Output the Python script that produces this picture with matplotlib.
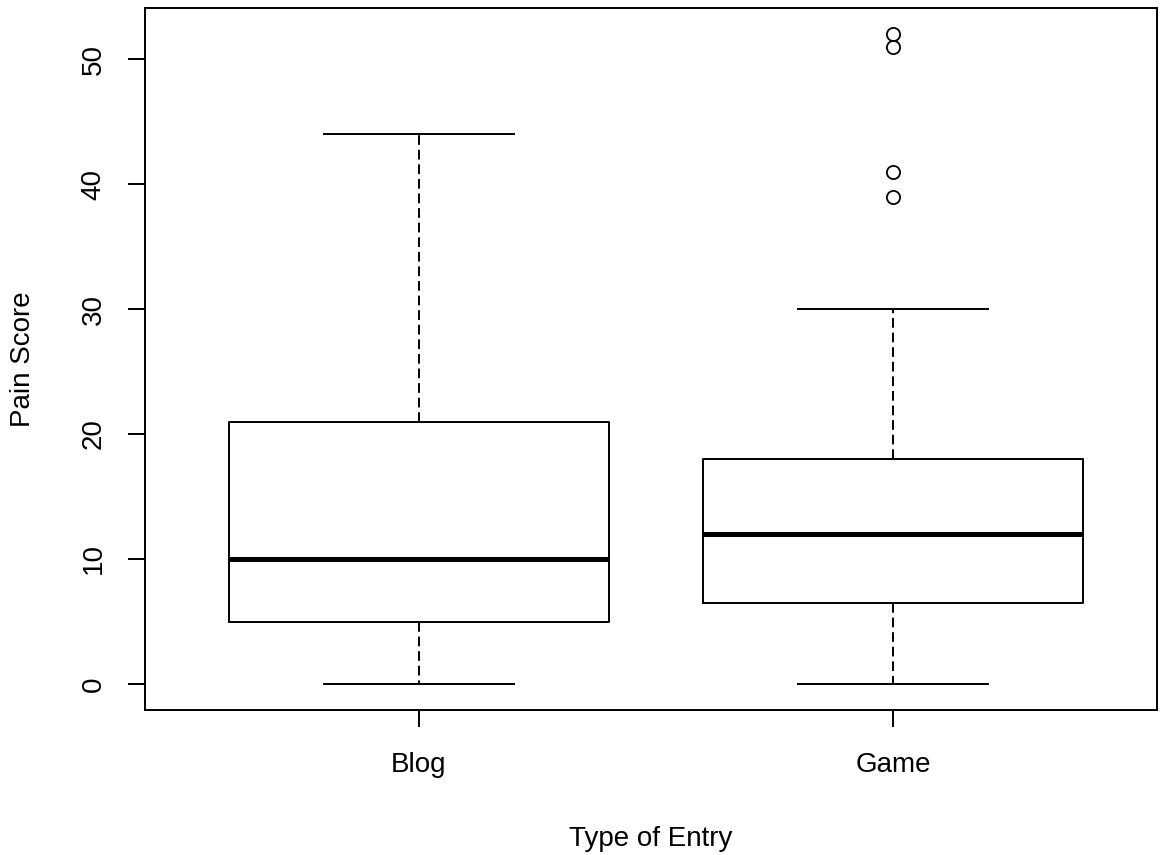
import numpy as np
import matplotlib.pyplot as plt

plt.rcParams['font.family'] = ['Liberation Sans', 'DejaVu Sans']

# ----- Data -----
groups = ["Blog", "Game"]
whisker_low = [0, 0]
q1 = [5, 6.5]
medians = [10, 12]
q3 = [21, 18]
whisker_high = [44, 30]
outliers = [[], [39, 41, 51, 52]]

stats = []
for i, name in enumerate(groups):
    stats.append({
        "label": name,
        "whislo": whisker_low[i],
        "q1": q1[i],
        "med": medians[i],
        "q3": q3[i],
        "whishi": whisker_high[i],
        "fliers": outliers[i],
    })

fig = plt.figure(figsize=(11.68, 8.55), dpi=100)
ax = fig.add_axes([145 / 1168, 1 - 710 / 855, (1157 - 145) / 1168, (710 - 8) / 855])

lw = 1.4
ax.bxp(
    stats,
    positions=[1, 2],
    widths=0.8,
    boxprops=dict(color="black", linewidth=lw),
    whiskerprops=dict(color="black", linewidth=lw, linestyle=(0, (5, 2.5))),
    capprops=dict(color="black", linewidth=lw),
    medianprops=dict(color="black", linewidth=3.6, solid_capstyle="butt"),
    flierprops=dict(marker="o", markersize=9.5, markerfacecolor="none",
                    markeredgecolor="black", markeredgewidth=1.3),
    capwidths=0.4,
)

ax.set_xlim(0.422, 2.557)
ax.set_ylim(-2.08, 54.08)
ax.set_yticks([0, 10, 20, 30, 40, 50])
ax.set_yticklabels(["0", "10", "20", "30", "40", "50"], rotation=90, va="center")
ax.set_xticks([1, 2])
ax.set_xticklabels(groups)

for side in ax.spines.values():
    side.set_linewidth(lw)

fs = 20
ax.tick_params(axis="both", length=12.5, width=lw, labelsize=fs, color="black")
ax.tick_params(axis="x", pad=18)
ax.tick_params(axis="y", pad=15)

ax.set_xlabel("Type of Entry", fontsize=fs)
ax.set_ylabel("Pain Score", fontsize=fs)
ax.xaxis.set_label_coords(0.5, (710 - 826) / 702)
ax.yaxis.set_label_coords((36 - 145) / 1012, 0.5)

fig.savefig("out.png", dpi=100)
